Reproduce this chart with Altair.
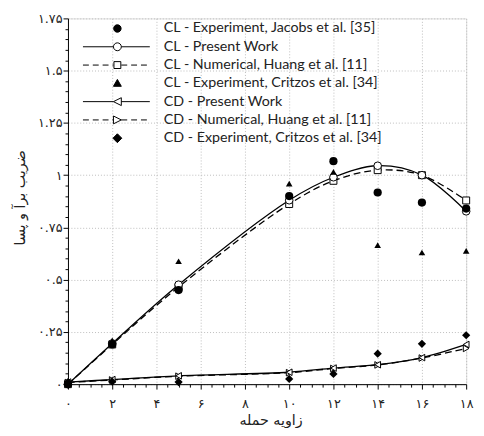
import altair as alt
import pandas as pd

# ---------------- data ----------------
aoa = [0, 2, 5, 10, 12, 14, 16, 18]
cl_jacobs = [0.0, 0.19, 0.45, 0.90, 1.067, 0.917, 0.869, 0.84]
cl_present = [0.0, 0.195, 0.476, 0.88, 0.99, 1.045, 1.0, 0.827]
cl_huang = [0.0, 0.19, 0.465, 0.862, 0.973, 1.024, 1.0, 0.879]
cl_critzos = [0.0, 0.21, 0.588, 0.96, 1.016, 0.665, 0.63, 0.638]
cd_present = [0.01, 0.022, 0.04, 0.057, 0.077, 0.093, 0.127, 0.19]
cd_huang = [0.008, 0.02, 0.038, 0.055, 0.075, 0.092, 0.125, 0.171]
cd_critzos = [0.01, 0.012, 0.01, 0.025, 0.049, 0.146, 0.193, 0.234]

legend_labels = [
    "CL - Experiment, Jacobs et al. [35]",
    "CL - Present Work",
    "CL - Numerical, Huang et al. [11]",
    "CL - Experiment, Critzos et al. [34]",
    "CD - Present Work",
    "CD - Numerical, Huang et al. [11]",
    "CD - Experiment, Critzos et al. [34]",
]
series_keys = ["cl_jacobs", "cl_present", "cl_huang", "cl_critzos",
               "cd_present", "cd_huang", "cd_critzos"]
series_values = [cl_jacobs, cl_present, cl_huang, cl_critzos,
                 cd_present, cd_huang, cd_critzos]

x_major = [0, 2, 4, 6, 8, 10, 12, 14, 16, 18]
x_major_labels = ["۰", "۲", "۴", "۶", "۸", "۱۰", "۱۲", "۱۴", "۱۶", "۱۸"]
y_major = [0, 0.25, 0.5, 0.75, 1.0, 1.25, 1.5, 1.75]
y_major_labels = ["۰", "۰.۲۵", "۰.۵", "۰.۷۵", "۱", "۱.۲۵", "۱.۵", "۱.۷۵"]

x_title = "زاویه حمله"
y_title = "ضریب برآ و پسا"

# ---------------- tables ----------------
rows = []
for key, vals in zip(series_keys, series_values):
    for a, v in zip(aoa, vals):
        rows.append({"aoa": a, "value": v, "series": key})
df = pd.DataFrame(rows)
legend_df = pd.DataFrame({"label": legend_labels})


def label_expr(vals, labels):
    expr = "''"
    for v, l in reversed(list(zip(vals, labels))):
        expr = f"abs(datum.value - {v}) < 1e-6 ? '{l}' : ({expr})"
    return expr


x_ticks = [i * 0.5 for i in range(37)]
y_ticks = [round(i * 0.05, 2) for i in range(36)]
x_major_test = "abs(datum.value / 2 - round(datum.value / 2)) < 1e-6"
y_major_test = "abs(datum.value * 4 - round(datum.value * 4)) < 1e-6"

FONT_AR = "DejaVu Sans"

x_axis = alt.Axis(
    values=x_ticks, labelExpr=label_expr(x_major, x_major_labels),
    labelOverlap=False, labelFlush=False,
    tickSize={"condition": {"test": x_major_test, "value": 5}, "value": 3},
    gridOpacity={"condition": {"test": x_major_test, "value": 1}, "value": 0},
    grid=True, gridColor="#bdbdbd", gridDash=[1, 2],
    domainColor="black", tickColor="black",
    labelFont=FONT_AR, labelFontSize=13, labelColor="#222", labelPadding=9,
    titleFont=FONT_AR, titleFontSize=14.5, titleFontWeight="normal", titleColor="#222",
    titleX=206, titleY=37, titleBaseline="middle", titleAlign="center",
)
y_axis = alt.Axis(
    values=y_ticks, labelExpr=label_expr(y_major, y_major_labels),
    labelOverlap=False, labelFlush=False,
    tickSize={"condition": {"test": y_major_test, "value": 5}, "value": 3},
    gridOpacity={"condition": {"test": y_major_test, "value": 1}, "value": 0},
    grid=True, gridColor="#bdbdbd", gridDash=[1, 2],
    domainColor="black", tickColor="black",
    labelFont=FONT_AR, labelFontSize=13, labelColor="#222", labelPadding=1,
    titleFont=FONT_AR, titleFontSize=14.5, titleFontWeight="normal", titleColor="#222",
    titleX=-48, titleY=182, titleAngle=270, titleBaseline="middle", titleAlign="center",
)

base = alt.Chart(df).encode(
    x=alt.X("aoa:Q", scale=alt.Scale(domain=[0, 18], nice=False), axis=x_axis, title=x_title),
    y=alt.Y("value:Q", scale=alt.Scale(domain=[0, 1.75], nice=False), axis=y_axis, title=y_title),
)


def sel(key):
    return base.transform_filter(alt.datum.series == key)


solid = dict(color="black", strokeWidth=1.3, interpolate="catmull-rom")
dashed = dict(color="black", strokeWidth=1.3, interpolate="catmull-rom", strokeDash=[7, 4])

lines = [
    sel("cl_present").mark_line(**solid),
    sel("cl_huang").mark_line(**dashed),
    sel("cd_present").mark_line(**solid),
    sel("cd_huang").mark_line(**dashed),
]
open_pts = [
    sel("cl_huang").mark_point(shape="square", filled=True, fill="white", stroke="black", strokeWidth=1, size=50, opacity=1),
    sel("cl_present").mark_point(shape="circle", filled=True, fill="white", stroke="black", strokeWidth=1, size=60, opacity=1),
    sel("cd_huang").mark_point(shape="triangle-right", filled=True, fill="white", stroke="black", strokeWidth=1, size=45, opacity=1),
    sel("cd_present").mark_point(shape="triangle-left", filled=True, fill="white", stroke="black", strokeWidth=1, size=45, opacity=1),
]
filled_pts = [
    sel("cl_critzos").mark_point(shape="triangle-up", filled=True, color="black", size=45, opacity=1),
    sel("cl_jacobs").mark_point(shape="circle", filled=True, color="black", size=70, opacity=1),
    sel("cd_critzos").mark_point(shape="diamond", filled=True, color="black", size=70, opacity=1),
]


# legend symbols: line + marker drawn as one custom path (1 unit = 1 px at size 4)
def dash_segments(x0, x1, dash=6, gap=4):
    out = []
    x = x0
    while x < x1:
        e = min(x + dash, x1)
        out.append(f"M{x},0H{e}")
        x += dash + gap
    return "".join(out)


def circ(r):
    return f"M{-r},0A{r},{r} 0 1,0 {r},0A{r},{r} 0 1,0 {-r},0Z"


sym_paths = [
    circ(3.8),
    "M-35,0H-4M4,0H33" + circ(4),
    dash_segments(-35, -4) + dash_segments(4, 33) + "M-3.5,-3.5H3.5V3.5H-3.5Z",
    "M0,-4L4,3L-4,3Z",
    "M-35,0H-4M4,0H33" + "M-4,0L4,-4L4,4Z",
    dash_segments(-35, -4) + dash_segments(4, 33) + "M4,0L-4,-4L-4,4Z",
    "M0,-4.5L4.5,0L0,4.5L-4.5,0Z",
]
sym_fills = ["black", "white", "white", "black", "white", "white", "black"]
sym_strokes = ["black"] * 7

leg = alt.Legend(
    title=None, orient="none", legendX=43, legendY=3,
    padding=0, rowPadding=3.6, labelOffset=40, symbolSize=4,
    labelFont="Lato", labelFontSize=14.5, labelColor="#222", labelLimit=400,
    symbolStrokeColor="black", symbolStrokeWidth=1, symbolOpacity=1,
)

legend_layer = alt.Chart(legend_df).mark_point(
    filled=True, opacity=0, size=4, strokeWidth=1
).encode(
    shape=alt.Shape("label:N", scale=alt.Scale(domain=legend_labels, range=sym_paths), legend=leg),
    fill=alt.Fill("label:N", scale=alt.Scale(domain=legend_labels, range=sym_fills), legend=leg),
    stroke=alt.Stroke("label:N", scale=alt.Scale(domain=legend_labels, range=sym_strokes), legend=leg),
)

chart = alt.layer(*lines, *open_pts, *filled_pts, legend_layer).properties(
    width=405, height=372,
    padding={"left": 61, "top": 7, "right": 10, "bottom": 41},
    autosize="none",
).configure_view(stroke="black", strokeWidth=1).configure(background="white")

chart.save("out.html", embed_options={"renderer": "svg", "actions": False})
